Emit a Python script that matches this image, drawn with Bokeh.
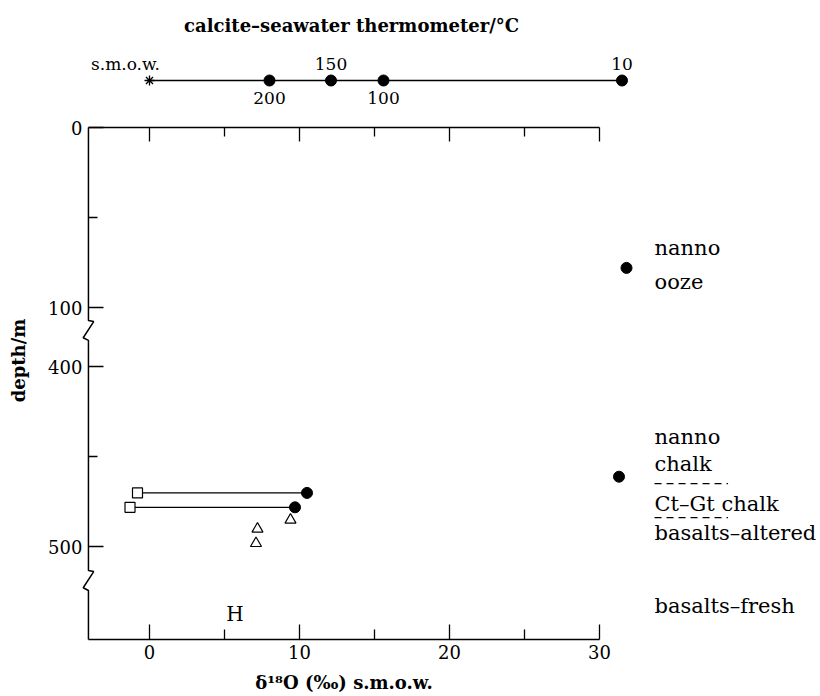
import numpy as np
from bokeh.plotting import figure
from bokeh.layouts import column
from bokeh.models import Range1d, LinearAxis, FixedTicker, Label
from bokeh.core.properties import value
from bokeh.embed import file_html
from bokeh.resources import INLINE

FONT = "DejaVu Serif"

# ---------------- data ----------------
# calcite-seawater thermometer scale (temperature in deg C at delta18O)
therm_labels = ["200", "150", "100", "10"]
therm_delta = [8.0, 12.1, 15.6, 31.5]
therm_side = ["below", "above", "below", "above"]
smow_delta = [0.0]

# axes
x_ticks = [0, 10, 20, 30]
x_minor = [5, 15, 25]
depth_ticks = [0, 100, 400, 500]
depth_minor = [50, 450]
x_axis_end = 30
x_axis_start = -4.07

# paired samples: open square (left) joined to filled circle (right)
pair_depth = [470, 478]
pair_sq_x = [-0.8, -1.3]
pair_ci_x = [10.5, 9.7]
# open triangles
tri_x = [9.4, 7.2, 7.1]
tri_depth = [485, 490, 498]
# sediment carbonates (filled circles at right)
sed_x = [31.8, 31.3]
sed_depth = [78, 461]

# lithology notes at the right (axis position units)
lith_text = ["nanno", "ooze", "nanno", "chalk", "Ct\u2013Gt chalk", "basalts\u2013altered", "basalts\u2013fresh"]
lith_pos = [67.2, 86.1, 172.2, 186.7, 208.9, 225.3, 265.6]
lith_x = 33.67
lith_bounds = [197.8, 216.7]
lith_bound_len = 4.9

# broken depth axis: depth -> axis position
BREAK_SHIFT = 267  # 400 m plotted at 133
def depth_pos(d):
    d = np.asarray(d, dtype=float)
    return np.where(d <= 100, d, d - BREAK_SHIFT)

axis_breaks = [(107.2, 118.3), (246.1, 257.2)]
bottom_pos = 284.44

# ---------------- shared x range ----------------
xr = Range1d(-9.933, 44.733)

# ---------------- top: thermometer scale ----------------
top = figure(width=820, height=118, x_range=xr, y_range=Range1d(118, 0),
             output_backend="svg", toolbar_location=None, min_border=0,
             x_axis_location=None, y_axis_location=None, outline_line_color=None)
top.grid.visible = False
row_y = 80
top.line(x=[smow_delta[0], max(therm_delta)], y=[row_y, row_y], line_color="black", line_width=1.4)
top.scatter(x=therm_delta, y=[row_y] * len(therm_delta), size=11, color="black")
top.scatter(x=smow_delta, y=[row_y], marker="asterisk", size=10, line_color="black", line_width=1.3)

above_x = [d for d, s in zip(therm_delta, therm_side) if s == "above"]
above_t = [t for t, s in zip(therm_labels, therm_side) if s == "above"]
below_x = [d for d, s in zip(therm_delta, therm_side) if s == "below"]
below_t = [t for t, s in zip(therm_labels, therm_side) if s == "below"]
top.text(x=above_x, y=[row_y - 17] * len(above_x), text=above_t, text_align="center",
         text_baseline="middle", text_font=value(FONT), text_font_size="17px", text_color="black")
top.text(x=below_x, y=[row_y + 17] * len(below_x), text=below_t, text_align="center",
         text_baseline="middle", text_font=value(FONT), text_font_size="17px", text_color="black")
top.add_layout(Label(x=smow_delta[0], y=row_y - 17, text="s.m.o.w.", x_offset=-24,
                     text_align="center", text_baseline="middle", text_font=FONT,
                     text_font_size="17px", text_color="black"))
top.add_layout(Label(x=13.47, y=25, text="calcite\u2013seawater thermometer/\u00b0C",
                     text_align="center", text_baseline="middle", text_font=FONT,
                     text_font_size="18px", text_font_style="bold", text_color="black"))

# ---------------- main plot ----------------
p = figure(width=820, height=578, x_range=xr, y_range=Range1d(316.1, -5),
           output_backend="svg", toolbar_location=None, min_border=0,
           x_axis_location=None, y_axis_location=None, outline_line_color=None)
p.grid.visible = False

common = dict(major_label_text_font=FONT, major_label_text_font_size="18px",
              major_label_text_color="black", axis_label_text_color="black",
              axis_label_text_font=FONT, axis_label_text_font_style="bold",
              axis_label_text_font_size="18px",
              major_tick_line_color="black", minor_tick_line_color="black",
              major_tick_out=0, minor_tick_out=0,
              major_tick_line_width=1.3, minor_tick_line_width=1.3)

tick_pos = [int(v) for v in depth_pos(depth_ticks)]
minor_pos = [float(v) for v in depth_pos(depth_minor)]
yaxis = LinearAxis(fixed_location=x_axis_start, bounds=(0, 258.9),
                   ticker=FixedTicker(ticks=tick_pos, minor_ticks=minor_pos),
                   major_label_overrides={tp: str(d) for tp, d in zip(tick_pos, depth_ticks)},
                   axis_label="depth/m", axis_label_standoff=16, major_label_standoff=6,
                   axis_line_color=None, major_tick_in=15, minor_tick_in=9, **common)
p.add_layout(yaxis, "left")

xaxis = LinearAxis(fixed_location=bottom_pos, bounds=(x_axis_start, x_axis_end),
                   ticker=FixedTicker(ticks=x_ticks, minor_ticks=x_minor),
                   axis_label="\u03b4\u00b9\u2078O (\u2030) s.m.o.w.",
                   axis_label_standoff=10, major_label_standoff=5,
                   axis_line_color="black", axis_line_width=1.5,
                   major_tick_in=15, minor_tick_in=10, **common)
p.add_layout(xaxis, "below")

topaxis = LinearAxis(fixed_location=0, bounds=(x_axis_start, x_axis_end),
                     ticker=FixedTicker(ticks=x_ticks, minor_ticks=x_minor),
                     axis_line_color="black", axis_line_width=1.5,
                     major_tick_in=14, minor_tick_in=9,
                     **{**common, "major_label_text_color": None})
p.add_layout(topaxis, "above")

# left axis line with break marks
jog = 0.35
ax_x, ax_y = [x_axis_start], [0.0]
for b0, b1 in axis_breaks:
    ax_x += [x_axis_start, x_axis_start + jog, x_axis_start - jog, x_axis_start]
    ax_y += [b0, b0 + 0.6, b1 - 1.5, b1]
ax_x.append(x_axis_start)
ax_y.append(bottom_pos)
p.line(x=ax_x, y=ax_y, line_color="black", line_width=1.5)

# paired samples
pair_y = depth_pos(pair_depth)
p.segment(x0=pair_sq_x, y0=pair_y, x1=pair_ci_x, y1=pair_y, line_color="black", line_width=1.3)
p.scatter(x=pair_sq_x, y=pair_y, marker="square", size=10, fill_color="white",
          line_color="black", line_width=1.2)
p.scatter(x=pair_ci_x, y=pair_y, marker="circle", size=11, color="black")
p.scatter(x=tri_x, y=depth_pos(tri_depth), marker="triangle", size=11, fill_color="white",
          line_color="black", line_width=1.2)
p.scatter(x=sed_x, y=depth_pos(sed_depth), marker="circle", size=11, color="black")

# "H"
p.text(x=[5.7], y=[270], text=["H"], text_align="center", text_baseline="middle",
       text_font=value(FONT), text_font_size="20px", text_color="black")

# lithology notes
p.text(x=[lith_x] * len(lith_text), y=lith_pos, text=lith_text, text_align="left",
       text_baseline="middle", text_font=value(FONT), text_font_size="21px", text_color="black")
p.segment(x0=[lith_x] * len(lith_bounds), y0=lith_bounds,
          x1=[lith_x + lith_bound_len] * len(lith_bounds), y1=lith_bounds,
          line_color="black", line_width=1.2, line_dash="7 5")

layout = column(top, p, spacing=0)
open("out.html", "w").write(file_html(layout, INLINE))
